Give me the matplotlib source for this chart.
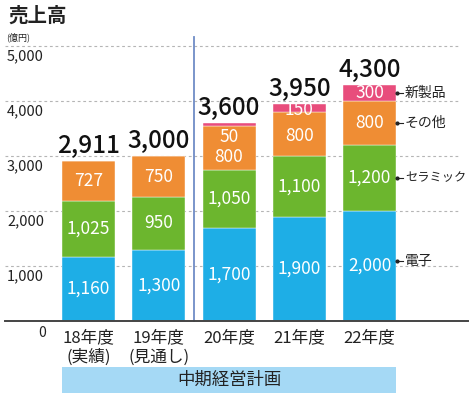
import matplotlib
matplotlib.use('Agg')
import matplotlib.pyplot as plt
from matplotlib.patches import Rectangle

plt.rcParams['font.family'] = ['Noto Sans CJK JP', 'DejaVu Sans']

# データ(億円)
years = ['18年度', '19年度', '20年度', '21年度', '22年度']
year_notes = ['(実績)', '(見通し)', '', '', '']
denshi = [1160, 1300, 1700, 1900, 2000]      # 電子
ceramic = [1025, 950, 1050, 1100, 1200]      # セラミック
sonota = [727, 750, 800, 800, 800]           # その他
shinseihin = [0, 0, 50, 150, 300]            # 新製品
totals = [2911, 3000, 3600, 3950, 4300]
series_names = ['電子', 'セラミック', 'その他', '新製品']
yticks = [1000, 2000, 3000, 4000, 5000]

colors = ['#1eaee6', '#6cb62e', '#ef8d34', '#e84d7c']

W, H = 472, 396
fig = plt.figure(figsize=(W / 100, H / 100), dpi=100)
ax = fig.add_axes([0, 0, 1, 1])

# ピクセル -> データ変換の基準
x0_px, dx_px = 88.5, 70.25      # 1本目の中心と間隔
y0_px, dy_px = 321.0, 55.0      # 0の位置と1000あたり
ax.set_xlim(-x0_px / dx_px, (W - x0_px) / dx_px)
ax.set_ylim(-(H - y0_px) / dy_px * 1000, y0_px / dy_px * 1000)
ax.axis('off')

def px_x(p):
    return (p - x0_px) / dx_px

def px_y(p):
    return (y0_px - p) / dy_px * 1000

# グリッド
for v in yticks:
    ax.plot([px_x(5), px_x(460)], [v, v], color='#b5b5b5', lw=0.8,
            ls=(0, (2.5, 2.5)), zorder=1)
    ax.text(px_x(7), v - 185, f'{v:,}', fontsize=10.5, color='#222222',
            ha='left', va='center', zorder=3)
ax.text(px_x(38), px_y(333), '0', fontsize=10, color='#222222',
        ha='left', va='center')

# 積み上げ棒
xs = list(range(len(years)))
bw = 53 / dx_px
stack = [denshi, ceramic, sonota, shinseihin]
bottoms = [0] * len(years)
for k, vals in enumerate(stack):
    ax.bar(xs, vals, bw, bottom=bottoms, color=colors[k],
           edgecolor='white', linewidth=0.3, zorder=2)
    for i, v in enumerate(vals):
        if v == 0:
            continue
        if k == 2 and shinseihin[i] > 0 and shinseihin[i] < 100:
            ymid = bottoms[i] + v * 0.3
        elif k == 3 and v < 100:
            ymid = bottoms[i] - 200
        elif k == 2 and shinseihin[i] > 0 and shinseihin[i] < 200:
            ymid = bottoms[i] + v * 0.45
        elif k == 3 and v < 200:
            ymid = bottoms[i] + v / 2 - 40
        else:
            ymid = bottoms[i] + v / 2
        ax.text(i, ymid, f'{v:,}', fontsize=12.5, color='white',
                ha='center', va='center', zorder=4)
    bottoms = [b + v for b, v in zip(bottoms, vals)]

# 合計
for i, t in enumerate(totals):
    ax.text(i, t + 140, f'{t:,}', fontsize=17.5, color='#111111',
            ha='center', va='baseline', fontweight='medium', zorder=4)

# 凡例(右側の引き出し線)
last = len(years) - 1
edge = last + bw / 2
seg_mid = [1100, denshi[last] + ceramic[last] / 2,
           denshi[last] + ceramic[last] + sonota[last] / 2,
           totals[last] - shinseihin[last] / 2]
for name, ym in zip(series_names, seg_mid):
    ax.plot([edge + 0.02, px_x(403)], [ym, ym], color='#222222', lw=0.8, zorder=5)
    ax.plot(edge + 0.02, ym, 'o', color='#222222', ms=2, zorder=5)
    fs = 8.8 if len(name) > 3 else 10
    ax.text(px_x(405), ym, name, fontsize=fs, color='#222222',
            ha='left', va='center')

# 区切り線と基線
ax.plot([px_x(194), px_x(194)], [0, px_y(37)], color='#6f8cc6', lw=1.3, zorder=3)
ax.plot([px_x(5), px_x(468)], [0, 0], color='#444444', lw=1.4, zorder=5)

# 年度ラベル
for i, (y, n) in enumerate(zip(years, year_notes)):
    ax.text(i, px_y(338), y, fontsize=12, color='#222222', ha='center', va='center')
    if n:
        ax.text(i, px_y(357), n, fontsize=12, color='#222222', ha='center', va='center')

# 中期経営計画
ax.add_patch(Rectangle((px_x(62), px_y(393)), px_x(396) - px_x(62),
                       px_y(367) - px_y(393), color='#a5d9f5', lw=0, zorder=2))
ax.text((px_x(62) + px_x(396)) / 2, px_y(380), '中期経営計画', fontsize=12.5,
        color='#222222', ha='center', va='center', zorder=3)

# タイトル
ax.text(px_x(8), px_y(16), '売上高', fontsize=14, fontweight='bold',
        color='#222222', ha='left', va='center')
ax.text(px_x(6), px_y(37), '(億円)', fontsize=6.5, color='#222222',
        ha='left', va='center')

fig.savefig('out.png', dpi=100)
